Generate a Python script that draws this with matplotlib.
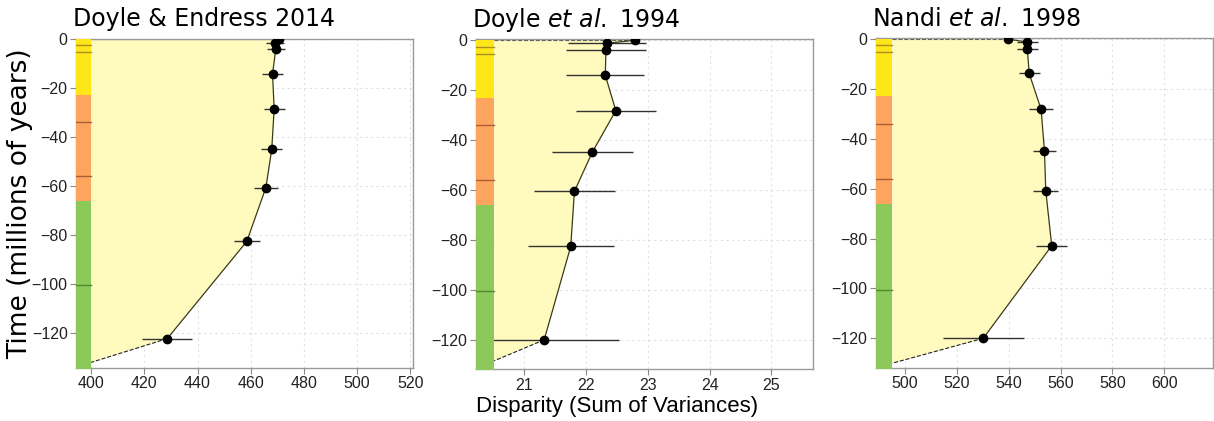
import matplotlib
matplotlib.use("Agg")
import matplotlib.pyplot as plt
import numpy as np

# data
titles = ["Doyle & Endress 2014", "Doyle $\\it{et}$ $\\it{al.}$ 1994", "Nandi $\\it{et}$ $\\it{al.}$ 1998"]

time_1 = [0, -1.5, -4.2, -14.3, -28.7, -45.0, -60.7, -82.7, -122.4]
disp_1 = [470.7, 469.2, 469.4, 468.2, 468.8, 467.9, 465.7, 458.5, 428.6]
err_1 = [0, 3.4, 3.4, 3.8, 4.0, 3.9, 4.6, 4.8, 9.3]

time_2 = [0, -1.2, -3.7, -14.0, -28.2, -44.8, -60.5, -82.6, -120.0]
disp_2 = [22.79, 22.34, 22.32, 22.31, 22.48, 22.10, 21.81, 21.75, 21.32]
err_2 = [0, 0.63, 0.65, 0.63, 0.65, 0.66, 0.66, 0.70, 1.21]

time_3 = [0, -1.2, -4.0, -13.8, -28.2, -44.8, -60.8, -82.9, -120.0]
disp_3 = [539.6, 547.2, 547.2, 547.9, 552.5, 553.8, 554.3, 556.6, 530.2]
err_3 = [0, 4.0, 4.0, 4.1, 4.5, 4.4, 4.9, 6.0, 15.6]

# axis ranges and where the time strip ends
xlims = [(394.3, 521.0), (20.21, 25.68), (488.7, 618.9)]
strip_edge = [400.0, 20.51, 495.1]
xticks = [[400, 420, 440, 460, 480, 500, 520], [21, 22, 23, 24, 25],
          [500, 520, 540, 560, 580, 600]]
ylims = [(-134.4, 0.0), (-131.8, 0.4), (-131.8, 0.3)]
base_time = [-132.1, -128.4, -130.0]

# geological periods and epoch boundaries (Ma)
periods = [(0, -23.03, "#FFE619"), (-23.03, -66.0, "#FDA45F"), (-66.0, -200, "#8CC85A")]
epoch_lines = [(-2.58, "#A89020"), (-5.33, "#A89020"), (-33.9, "#A8603A"),
               (-56.0, "#A8603A"), (-100.5, "#4E8A30")]

positions = [[0.0626, 0.1259, 0.2776, 0.7815],
             [0.3918, 0.1228, 0.2782, 0.7839],
             [0.7213, 0.1266, 0.2781, 0.7824]]

fig = plt.figure(figsize=(12.14, 4.21), dpi=100)

all_data = [(time_1, disp_1, err_1), (time_2, disp_2, err_2), (time_3, disp_3, err_3)]

for i, (t, d, e) in enumerate(all_data):
    ax = fig.add_axes(positions[i])
    x0, x1 = xlims[i]
    edge = strip_edge[i]

    # shaded area under the curve
    poly_x = [edge] + d + [edge]
    poly_y = [0] + t + [base_time[i]]
    ax.fill(poly_x, poly_y, color="#FFFABE", zorder=1, lw=0)
    ax.plot([edge, d[0]], [0, 0], ls="--", color="#555555", lw=0.8, zorder=2)
    ax.plot([d[-1], edge], [t[-1], base_time[i]], ls="--", color="#222222", lw=0.8, zorder=2)
    ax.plot(d, t, color="#3A3A1A", lw=0.9, zorder=3)
    ax.errorbar(d, t, xerr=e, fmt="none", ecolor="#333333", elinewidth=1.0,
                capsize=0, zorder=3)
    ax.plot(d, t, "o", color="black", markersize=6, zorder=4)

    # time scale strip
    for top, bot, col in periods:
        ax.fill_between([x0, edge], bot, top, color=col, lw=0, zorder=5)
    for yy, col in epoch_lines:
        ax.plot([x0, edge], [yy, yy], color=col, lw=1.0, zorder=6)

    ax.set_xlim(x0, x1)
    ax.set_ylim(*ylims[i])
    ax.set_xticks(xticks[i])
    ax.set_yticks([0, -20, -40, -60, -80, -100, -120])
    ax.grid(True, color="#E0E0E0", ls=(0, (2, 3)), lw=0.8, zorder=0)
    ax.set_axisbelow(True)
    for s in ax.spines.values():
        s.set_color("#999999")
        s.set_linewidth(1.0)
    ax.tick_params(colors="#888888", labelcolor="#222222", labelsize=11.5,
                   length=4, width=0.8, pad=2)
    for lab in ax.get_xticklabels() + ax.get_yticklabels():
        lab.set_family("Liberation Sans")
    ax.set_title(titles[i], loc="left", fontsize=17, pad=9, x=-0.01,
                 family="DejaVu Sans")

fig.text(20 / 1214, 0.515, "Time (millions of years)", rotation=90, fontsize=19,
         family="DejaVu Sans", ha="center", va="center")
fig.text(0.5087, 0.022, "Disparity (Sum of Variances)", fontsize=16,
         family="Liberation Sans", ha="center", va="baseline")

fig.savefig("out.png", dpi=100)
